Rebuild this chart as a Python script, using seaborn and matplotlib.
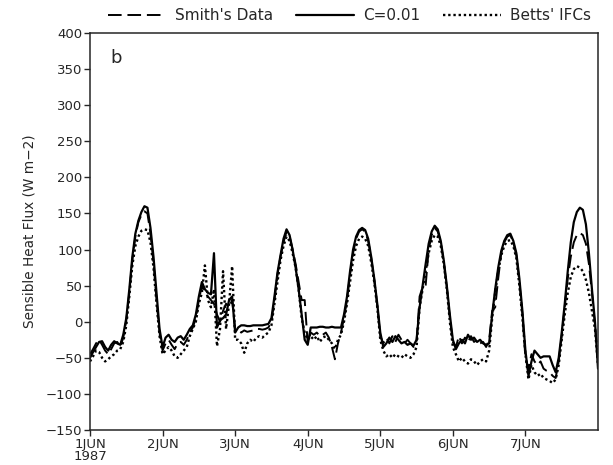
import numpy as np
import pandas as pd
import matplotlib
matplotlib.use("Agg")
import matplotlib.pyplot as plt
import seaborn as sns

# Hourly values from 1 JUN 1987 00h (hour 0) to 8 JUN 00h (hour 168)
c001 = [
    # day 1
    -50, -42, -35, -28, -27, -35, -40, -32, -27, -30, -32,
    -18, 5, 45, 90, 122, 140, 152, 160, 158, 130, 90, 40, -10,
    # day 2
    -35, -22, -18, -25, -28, -22, -20, -25, -18, -10, -5, 10, 35, 55,
    45, 40, 38, 95, -8, 2, 5, 10, 30, 35,
    # day 3
    -15, -8, -5, -5, -6, -6, -5, -5, -5, -5, -4, -3, 5, 35, 68, 92,
    115, 128, 120, 100, 75, 45, 10, -25,
    # day 4
    -32, -8, -8, -8, -7, -7, -8, -8, -7, -8, -8, -8, 10, 35, 70, 100,
    118, 127, 130, 127, 115, 90, 60, 25,
    # day 5
    -15, -35, -30, -22, -28, -20, -25, -30, -28, -32, -30, -33, -25, 20,
    50, 80, 108, 125, 133, 128, 112, 85, 50, 10,
    # day 6
    -25, -38, -30, -25, -30, -18, -25, -22, -28, -25, -30, -32, -30, 10,
    45, 75, 98, 112, 120, 122, 112, 95, 60, 15,
    # day 7
    -40, -75, -55, -40, -45, -50, -48, -48, -48, -60, -70, -50, -15, 25,
    70, 110, 138, 152, 158, 155, 135, 95, 45, 0,
    -65,
]

smith = [
    # day 1
    -45, -38, -30, -25, -32, -40, -45, -38, -30, -28, -35,
    -22, 2, 40, 85, 118, 138, 148, 153, 150, 122, 82, 30, -15,
    # day 2
    -40, -30, -25, -32, -38, -30, -28, -32, -25, -15, -8, 5, 30, 50,
    40, 35, 30, 25, 10, 0, 15, 25, 20, 30,
    # day 3
    -10, -12, -15, -12, -14, -13, -12, -10, -10, -11, -10, -8, 0, 30,
    65, 90, 110, 125, 118, 100, 80, 55, 30, 30,
    # day 4
    -30, -15, -18, -15, -20, -18, -15, -22, -35, -52, -30, -15, 5, 30,
    65, 95, 115, 125, 128, 125, 112, 88, 58, 22,
    # day 5
    -20, -30, -22, -30, -20, -28, -18, -25, -30, -25, -30, -35, -28, 35,
    48, 50, 100, 120, 130, 125, 110, 82, 48, 5,
    # day 6
    -28, -35, -20, -30, -22, -28, -20, -28, -25, -30, -28, -35, -25, 15,
    20, 60, 95, 110, 118, 120, 110, 92, 55, 10,
    # day 7
    -50, -65, -45, -55, -60, -55, -65, -68, -70, -75, -78, -55, -20, 20,
    60, 90, 110, 120, 123, 120, 108, 80, 40, -5,
    -50,
]

betts = [
    # day 1
    -55, -48, -40, -42, -50, -55, -52, -48, -45, -40, -38,
    -28, -5, 35, 78, 105, 118, 126, 128, 127, 110, 75, 25, -20,
    # day 2
    -45, -40, -35, -40, -48, -50, -45, -40, -35, -20, -10, 0, 25, 40,
    78, 30, 20, 45, -34, -10, 70, -10, 25, 77,
    # day 3
    -25, -25, -30, -43, -30, -25, -28, -22, -20, -22, -18, -15, -5, 25,
    55, 85, 105, 118, 112, 95, 75, 45, 5, -15,
    # day 4
    -25, -20, -25, -20, -28, -22, -20, -25, -30, -38, -25, -18, 0, 25,
    55, 85, 105, 115, 118, 115, 105, 82, 55, 20,
    # day 5
    -25, -40, -48, -45, -50, -45, -48, -50, -45, -48, -50, -45, -35, 20,
    45, 70, 95, 112, 120, 118, 105, 80, 45, 0,
    # day 6
    -35, -45, -55, -50, -55, -58, -52, -55, -60, -55, -52, -55, -40, 5,
    40, 70, 92, 105, 112, 113, 105, 88, 50, 5,
    # day 7
    -45, -80, -60, -70, -75, -72, -78, -80, -82, -85, -80, -60, -25, 10,
    40, 62, 73, 77, 75, 70, 58, 40, 15, -10,
    -60,
]

tick_hours = [0, 24, 48, 72, 96, 120, 144]
tick_labels = ["1JUN\n1987", "2JUN", "3JUN", "4JUN", "5JUN", "6JUN", "7JUN"]
y_ticks = list(range(-150, 401, 50))

sns.set_style("ticks")
plt.rcParams["font.family"] = ["DejaVu Sans"]

fig = plt.figure(figsize=(6.13, 4.65), dpi=100)
ax = fig.add_axes([90 / 613, 35 / 465, 508 / 613, 397 / 465])

series = [
    ("Smith's Data", smith, (0, (7, 3)), 1.4),
    ("C=0.01", c001, "-", 1.6),
    ("Betts' IFCs", betts, (0, (1, 1.2)), 1.7),
]
for name, vals, ls, lw in series:
    df = pd.DataFrame({"hour": np.arange(len(vals)), "flux": vals})
    sns.lineplot(data=df, x="hour", y="flux", ax=ax, color="black",
                 linestyle=ls, linewidth=lw, label=name, legend=False)

ax.set_xlim(0, 168)
ax.set_ylim(-150, 400)
ax.set_xticks(tick_hours)
ax.set_xticklabels(tick_labels, fontsize=9.5, linespacing=0.9)
ax.set_yticks(y_ticks)
ax.set_yticklabels([str(v).replace("-", "\u2212") for v in y_ticks], fontsize=9.5)
ax.tick_params(axis="both", direction="out", length=4, width=1, pad=1.5)
ax.set_xlabel("")
ax.set_ylabel("Sensible Heat Flux (W m\u22122)", fontsize=9.8, labelpad=7)
for s in ax.spines.values():
    s.set_linewidth(1.1)
    s.set_visible(True)

ax.text(0.04, 0.96, "b", transform=ax.transAxes, fontsize=13, va="top", ha="left")

handles, labels = ax.get_legend_handles_labels()
fig.legend(handles, labels, loc="upper center", bbox_to_anchor=(0.570, 1.012),
           ncol=3, frameon=False, fontsize=11, handlelength=3.8,
           columnspacing=1.5, handletextpad=0.6)

fig.savefig("out.png", dpi=100)
